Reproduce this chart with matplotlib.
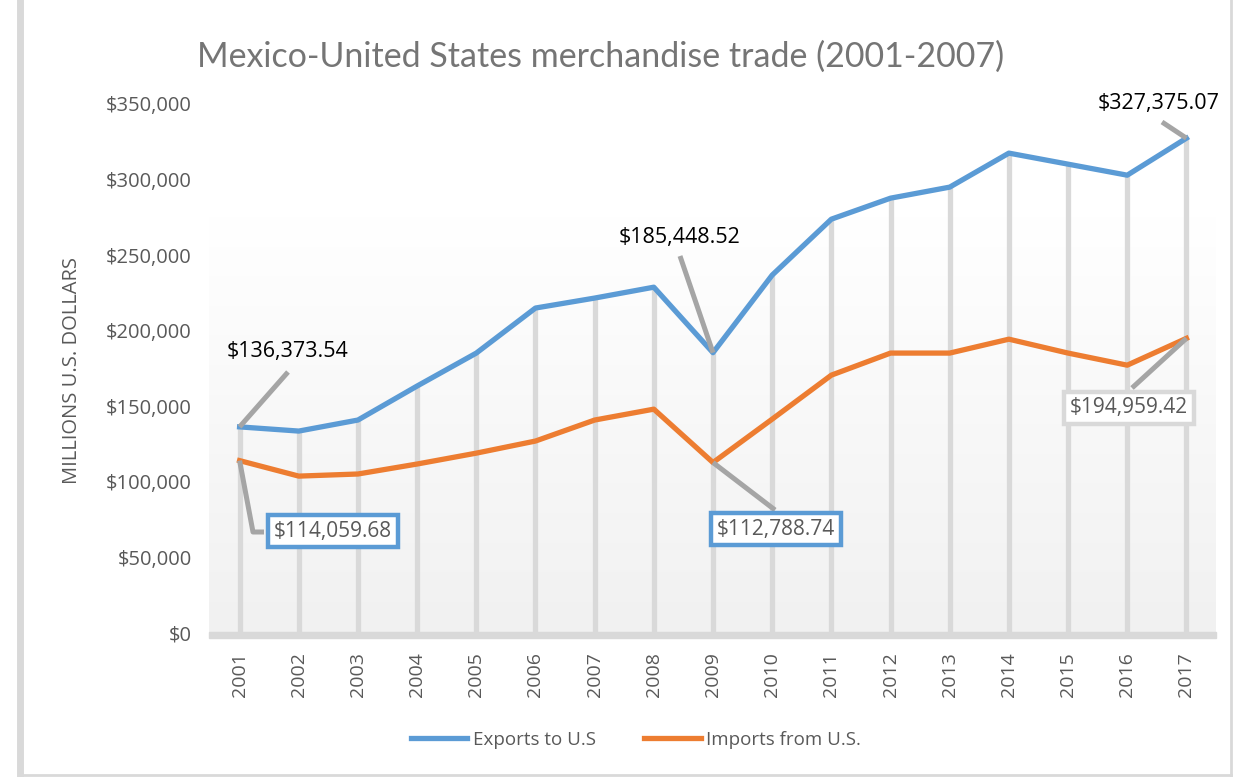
import matplotlib
matplotlib.use("Agg")
import matplotlib.pyplot as plt
import numpy as np
from matplotlib.lines import Line2D
from matplotlib.patches import Rectangle

years = ["2001", "2002", "2003", "2004", "2005", "2006", "2007", "2008", "2009",
         "2010", "2011", "2012", "2013", "2014", "2015", "2016", "2017"]
exports_to_us = [136373.54, 133600, 140900, 163400, 185200, 215000, 221600, 228800,
                 185448.52, 236800, 273800, 287700, 295000, 317500, 310200, 302900, 327375.07]
imports_from_us = [114059.68, 103800, 105200, 111800, 119000, 127000, 140900, 148100,
                   112788.74, 141500, 170600, 185200, 185200, 194400, 185200, 177200, 194959.42]
yticks = [0, 50000, 100000, 150000, 200000, 250000, 300000, 350000]
title = "Mexico-United States merchandise trade (2001-2007)"
ylabel = "MILLIONS U.S. DOLLARS"
legend_labels = ["Exports to U.S", "Imports from U.S."]

BLUE = "#5b9bd5"
ORANGE = "#ed7d31"
TXT = "#595959"
LEAD = "#a5a5a5"
FONT = ["Open Sans", "DejaVu Sans"]

W, H = 1234, 777
fig = plt.figure(figsize=(W / 100, H / 100), dpi=100)
fig.patch.set_facecolor("white")

def fx(px):
    return px / W

def fy(py):
    return 1 - py / H

ax = fig.add_axes([fx(210), fy(633), fx(1216) - fx(210), fy(104) - fy(633)])
ax.set_facecolor("none")
x = np.arange(len(years))
ax.set_xlim(-0.5, len(years) - 0.5)
ax.set_ylim(0, 350000)

# gradient plot-area background
gax = fig.add_axes([fx(209), fy(633), fx(1216) - fx(209), fy(216) - fy(633)], zorder=-1)
grad = np.linspace(1.0, 0.0, 256).reshape(-1, 1)
top = np.array([1.0, 1.0, 1.0])
bot = np.array([0.945, 0.945, 0.945])
img = grad[..., None] * top + (1 - grad[..., None]) * bot
gax.imshow(img, aspect="auto", extent=[0, 1, 0, 1])
gax.axis("off")

# drop lines
hi = np.maximum(exports_to_us, imports_from_us)
ax.vlines(x, 0, hi, color="#d9d9d9", lw=3.8, zorder=1)

ax.plot(x, exports_to_us, color=BLUE, lw=3.8, solid_joinstyle="round", zorder=3,
        label=legend_labels[0])
ax.plot(x, imports_from_us, color=ORANGE, lw=3.8, solid_joinstyle="round", zorder=3,
        label=legend_labels[1])

for s in ax.spines.values():
    s.set_visible(False)
ax.set_yticks(yticks)
ax.set_yticklabels([f"${v:,.0f}" for v in yticks], fontsize=14.5, color=TXT, family=FONT)
ax.set_xticks(x)
ax.set_xticklabels(years, rotation=90, fontsize=14, color=TXT, family=FONT)
ax.tick_params(axis="both", length=0)
ax.tick_params(axis="y", pad=13)
ax.tick_params(axis="x", pad=14)

# floor band
fig.patches.append(Rectangle((fx(209), fy(638)), fx(1216) - fx(209), fy(632) - fy(638),
                             transform=fig.transFigure, color="#d9d9d9", zorder=0))

# outer frame
fig.add_artist(Line2D([fx(20), fx(20)], [fy(0), fy(775)], color="#d9d9d9", lw=5))
fig.add_artist(Line2D([fx(20), fx(1231)], [fy(775), fy(775)], color="#d9d9d9", lw=2))
fig.add_artist(Line2D([fx(1231), fx(1231)], [fy(0), fy(775)], color="#d9d9d9", lw=2))

fig.text(fx(601), fy(57), title, ha="center", va="center", fontsize=24.5,
         color="#757575", family=["Lato", "DejaVu Sans"])
fig.text(fx(72), fy(370), ylabel, ha="center", va="center", rotation=90,
         fontsize=14.5, color=TXT, family=FONT)

fig.canvas.draw()

def data_px(i, v):
    dx, dy = ax.transData.transform((i, v))
    return dx, H - dy

def leader(points):
    xs = [fx(p[0]) for p in points]
    ys = [fy(p[1]) for p in points]
    fig.add_artist(Line2D(xs, ys, color=LEAD, lw=3.6, zorder=5, solid_capstyle="butt"))

def plain_label(text, cx, cy):
    fig.text(fx(cx), fy(cy), text, ha="center", va="center", fontsize=15.5,
             color="black", family=FONT, zorder=6)

def box_label(text, cx, cy, edge):
    fig.text(fx(cx), fy(cy), text, ha="center", va="center", fontsize=15,
             color=TXT, family=FONT, zorder=6,
             bbox=dict(boxstyle="square,pad=0.28", fc="white", ec=edge, lw=3.2))

i09 = years.index("2009")
i17 = years.index("2017")

# 2001 exports
p = data_px(0, exports_to_us[0])
leader([p, (288, 372)])
plain_label(f"${exports_to_us[0]:,.2f}", 288, 352)
# 2001 imports
p = data_px(0, imports_from_us[0])
leader([p, (253, 532), (264, 532)])
box_label(f"${imports_from_us[0]:,.2f}", 333, 531, BLUE)
# 2009 exports
p = data_px(i09, exports_to_us[i09])
leader([p, (680, 256)])
plain_label(f"${exports_to_us[i09]:,.2f}", 680, 237)
# 2009 imports
p = data_px(i09, imports_from_us[i09])
leader([p, (775, 510)])
box_label(f"${imports_from_us[i09]:,.2f}", 776, 529, BLUE)
# 2017 exports
p = data_px(i17, exports_to_us[i17])
leader([p, (1162, 122)])
plain_label(f"${exports_to_us[i17]:,.2f}", 1159, 103)
# 2017 imports
p = data_px(i17, imports_from_us[i17])
leader([p, (1132, 388)])
box_label(f"${imports_from_us[i17]:,.2f}", 1129, 408, "#d9d9d9")

handles, labels = ax.get_legend_handles_labels()
fig.legend(handles, labels, loc="center", bbox_to_anchor=(fx(636), fy(740)), ncol=2,
           frameon=False, prop={"family": FONT, "size": 13.5}, labelcolor=TXT,
           handlelength=3.0, handletextpad=0.3, columnspacing=2.6)

fig.savefig("out.png", dpi=100)
